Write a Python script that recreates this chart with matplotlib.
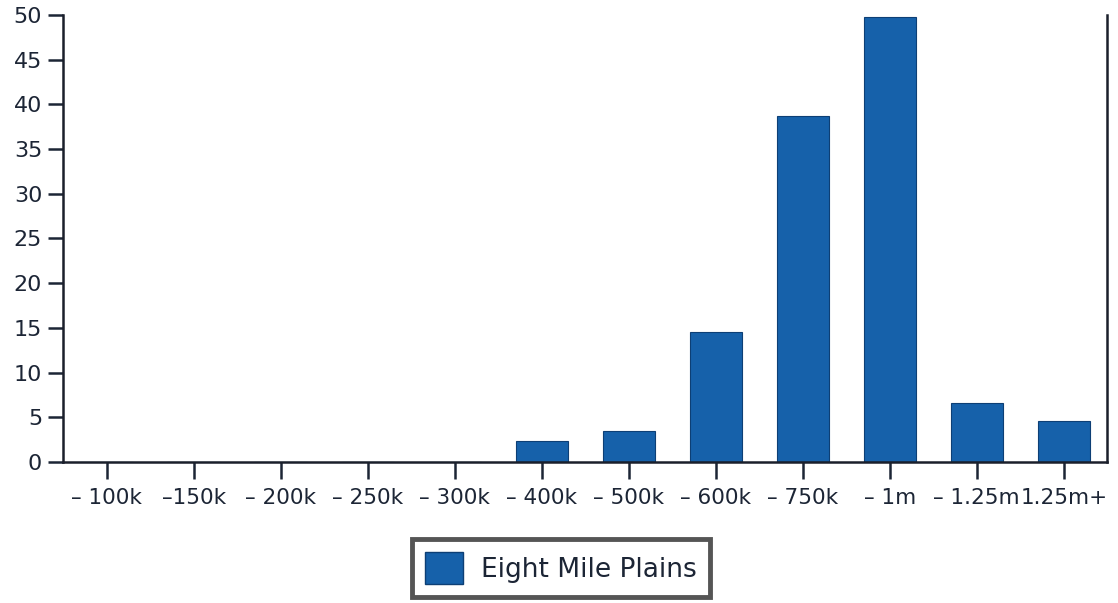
import matplotlib
matplotlib.use("Agg")
import matplotlib.pyplot as plt
from matplotlib.patches import Patch

categories = ["– 100k", "–150k", "– 200k", "– 250k", "– 300k", "– 400k",
              "– 500k", "– 600k", "– 750k", "– 1m", "– 1.25m", "1.25m+"]
values = [0, 0, 0, 0, 0, 2.3, 3.5, 14.5, 38.7, 49.8, 6.6, 4.6]
series_name = "Eight Mile Plains"
yticks = [0, 5, 10, 15, 20, 25, 30, 35, 40, 45, 50]

bar_color = "#1661aa"
text_color = "#1c2535"

fig = plt.figure(figsize=(11.18, 6.03), dpi=100)
ax = fig.add_axes([0.0564, 0.234, 0.934, 0.741])

x = list(range(len(categories)))
ax.bar(x, values, width=0.6, color=bar_color, edgecolor="#0d3f75", linewidth=0.8)

ax.set_xlim(-0.5, len(categories) - 0.5)
ax.set_ylim(0, 50)
ax.set_yticks(yticks)
ax.set_xticks(x)
ax.set_xticklabels(categories, fontsize=15.5, color=text_color, family="DejaVu Sans")
ax.tick_params(axis="y", labelsize=16, colors=text_color, direction="out", length=11, width=1.8, pad=4)
ax.tick_params(axis="x", direction="out", length=12, width=1.8, pad=7, colors=text_color)
for lbl in ax.get_xticklabels():
    lbl.set_color(text_color)

ax.spines["top"].set_visible(False)
for s in ["left", "bottom", "right"]:
    ax.spines[s].set_linewidth(1.8)
    ax.spines[s].set_color("#1a1f2b")

leg = fig.legend(handles=[Patch(facecolor=bar_color, edgecolor="#0d3f75")],
                 labels=[series_name], loc="center",
                 bbox_to_anchor=(561 / 1118, 1 - 568 / 603),
                 fontsize=19, handlelength=1.45, handleheight=1.45,
                 fancybox=False, frameon=True, borderpad=0.5, handletextpad=0.7,
                 borderaxespad=0)
leg.get_frame().set_edgecolor("#2b2b2b")
leg.get_frame().set_linewidth(3.5)
for t in leg.get_texts():
    t.set_color(text_color)

fig.savefig("out.png", dpi=100)
